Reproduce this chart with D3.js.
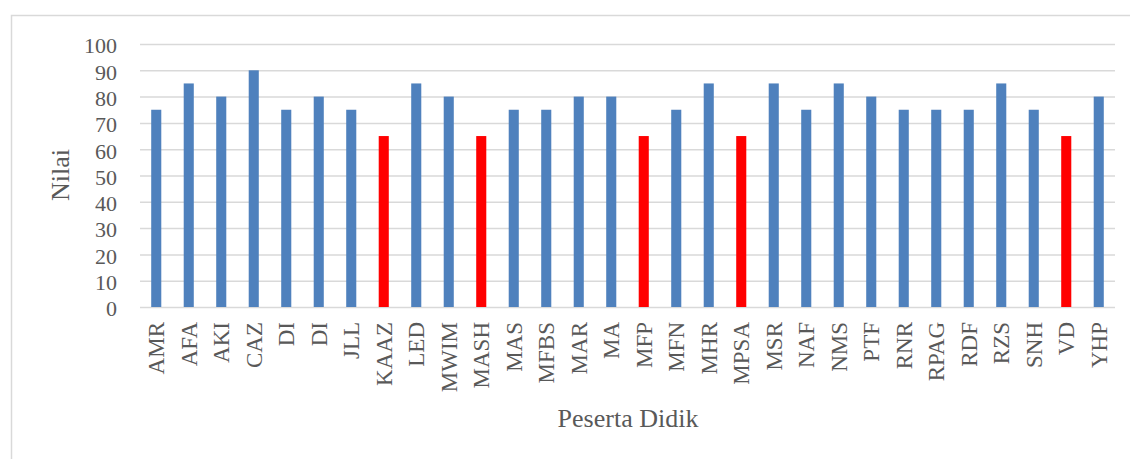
<!DOCTYPE html>
<html><head><meta charset="utf-8">
<script src="https://cdn.jsdelivr.net/npm/d3@7"></script>
<style>body{margin:0;background:#fff}svg{display:block}</style>
</head><body>
<script>
const categories = ["AMR","AFA","AKI","CAZ","DI","DI","JLL","KAAZ","LED","MWIM","MASH","MAS","MFBS","MAR","MA","MFP","MFN","MHR","MPSA","MSR","NAF","NMS","PTF","RNR","RPAG","RDF","RZS","SNH","VD","YHP"];
const values = [75,85,80,90,75,80,75,65,85,80,65,75,75,80,80,65,75,85,65,85,75,85,80,75,75,75,85,75,65,80];
const highlighted = ["KAAZ","MASH","MFP","MPSA","VD"];
const yTicks = [0,10,20,30,40,50,60,70,80,90,100];
const xTitle = "Peserta Didik";
const yTitle = "Nilai";

(function(){
const W = 1130, H = 459;
const svg = d3.select("body").append("svg").attr("width", W).attr("height", H);
svg.append("rect").attr("x", 11.5).attr("y", 15.5).attr("width", W + 10).attr("height", H + 10)
  .attr("fill", "none").attr("stroke", "#d9d9d9").attr("stroke-width", 1.5);

const pl = 140, pr = 1115, pt = 44, pb = 307;
const idx = d3.range(categories.length);
const x = d3.scaleBand().domain(idx).range([pl, pr]).paddingInner(0.69).paddingOuter(0.345);
const y = d3.scaleLinear().domain([0, 100]).range([pb, pt]);

const font = "'Liberation Serif','Times New Roman',serif";
const txt = "#595959";

const yAxis = d3.axisLeft(y).tickValues(yTicks).tickSize(-(pr - pl)).tickPadding(23);
const gy = svg.append("g").attr("transform", `translate(${pl},0)`).call(yAxis);
gy.select(".domain").remove();
gy.selectAll(".tick line").attr("stroke", "#d9d9d9").attr("stroke-width", 1.5);
gy.selectAll(".tick text").attr("font-family", font).attr("font-size", 22).attr("fill", txt).attr("dy", "0.4em");

svg.append("g").selectAll("rect").data(idx).join("rect")
  .attr("x", i => x(i)).attr("width", x.bandwidth())
  .attr("y", i => y(values[i])).attr("height", i => y(0) - y(values[i]))
  .attr("fill", i => highlighted.includes(categories[i]) ? "#FF0000" : "#4F81BD");

const xAxis = d3.axisBottom(x).tickFormat(i => categories[i]).tickSize(0).tickPadding(0);
const gx = svg.append("g").attr("transform", `translate(0,${pb})`).call(xAxis);
gx.select(".domain").remove();
gx.selectAll(".tick text")
  .attr("font-family", font).attr("font-size", 23).attr("fill", txt)
  .attr("text-anchor", "end").attr("dy", null).attr("y", null)
  .attr("transform", "translate(8,15) rotate(-90)");

svg.append("text").attr("x", 628).attr("y", 427).attr("text-anchor", "middle")
  .attr("font-family", font).attr("font-size", 26).attr("fill", txt).text(xTitle);
svg.append("text").attr("transform", "translate(69,175) rotate(-90)").attr("text-anchor", "middle")
  .attr("font-family", font).attr("font-size", 26).attr("fill", txt).text(yTitle);
})();
</script>
</body></html>
